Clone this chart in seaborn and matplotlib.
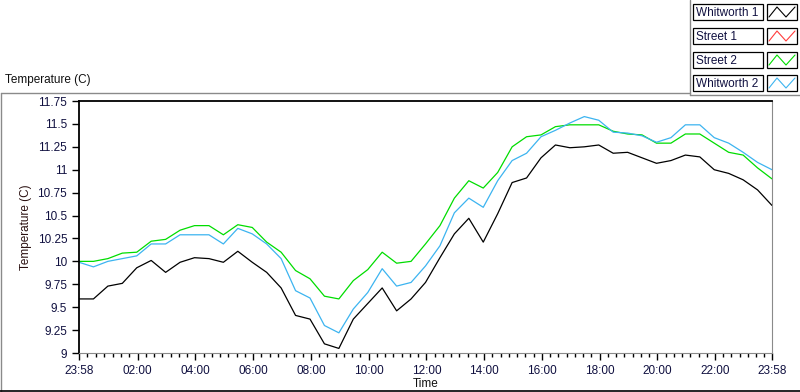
import numpy as np
import pandas as pd
import matplotlib
matplotlib.use("Agg")
import matplotlib.pyplot as plt
import seaborn as sns
from matplotlib.patches import Rectangle
from matplotlib.ticker import FixedLocator

# sampled every half hour starting at 23:58
hours = np.arange(0, 24.01, 0.5)

whitworth1 = [9.59, 9.59, 9.73, 9.76, 9.93, 10.01, 9.88, 9.99, 10.04, 10.03,
              9.99, 10.11, 9.99, 9.88, 9.71, 9.41, 9.37, 9.10, 9.05, 9.37,
              9.54, 9.71, 9.46, 9.59, 9.77, 10.04, 10.30, 10.47, 10.21, 10.52,
              10.86, 10.91, 11.13, 11.27, 11.24, 11.25, 11.27, 11.18, 11.19, 11.13,
              11.07, 11.10, 11.16, 11.14, 11.00, 10.96, 10.89, 10.78, 10.61]
street1 = []
street2 = [10.00, 10.00, 10.03, 10.09, 10.10, 10.22, 10.24, 10.34, 10.39, 10.39,
           10.29, 10.40, 10.37, 10.21, 10.10, 9.90, 9.81, 9.62, 9.59, 9.79,
           9.91, 10.10, 9.98, 10.00, 10.19, 10.39, 10.69, 10.88, 10.80, 10.97,
           11.25, 11.36, 11.38, 11.47, 11.49, 11.49, 11.49, 11.42, 11.39, 11.38,
           11.29, 11.29, 11.39, 11.39, 11.29, 11.19, 11.16, 11.02, 10.90]
whitworth2 = [9.99, 9.94, 10.00, 10.03, 10.06, 10.19, 10.19, 10.29, 10.29, 10.29,
              10.19, 10.36, 10.30, 10.19, 10.03, 9.68, 9.60, 9.30, 9.22, 9.48,
              9.66, 9.92, 9.73, 9.77, 9.95, 10.17, 10.53, 10.69, 10.59, 10.88,
              11.10, 11.18, 11.36, 11.43, 11.51, 11.58, 11.54, 11.41, 11.40, 11.37,
              11.30, 11.35, 11.49, 11.49, 11.35, 11.29, 11.19, 11.08, 11.00]

names = ["Whitworth 1", "Street 1", "Street 2", "Whitworth 2"]
colors = ["#000000", "#ff3c3c", "#00dd00", "#3cb4f0"]
series = [whitworth1, street1, street2, whitworth2]

xtick_pos = [0, 2 + 2 / 60, 4 + 2 / 60, 6 + 2 / 60, 8 + 2 / 60, 10 + 2 / 60, 12 + 2 / 60,
             14 + 2 / 60, 16 + 2 / 60, 18 + 2 / 60, 20 + 2 / 60, 22 + 2 / 60, 24]
xtick_labels = ["23:58", "02:00", "04:00", "06:00", "08:00", "10:00", "12:00",
                "14:00", "16:00", "18:00", "20:00", "22:00", "23:58"]
yticks = [9, 9.25, 9.5, 9.75, 10, 10.25, 10.5, 10.75, 11, 11.25, 11.5, 11.75]

rows = []
for n, s in zip(names, series):
    for h, v in zip(hours[:len(s)], s):
        rows.append({"hour": h, "temp": v, "sensor": n})
df = pd.DataFrame(rows)

sns.set_style("white")
plt.rcParams['font.family'] = ['Liberation Sans', 'DejaVu Sans']
plt.rcParams['font.size'] = 8.5

fig = plt.figure(figsize=(8, 3.92), dpi=100)

# background overlay in pixel coordinates for frame, title and legend
bg = fig.add_axes([0, 0, 1, 1], zorder=-1)
bg.set_xlim(0, 800)
bg.set_ylim(392, 0)
bg.axis("off")
gray = "#8a8a8a"
bg.plot([0.5, 690], [93, 93], color=gray, lw=1)
bg.plot([690, 690], [0, 95], color=gray, lw=1)
bg.plot([690, 800], [95, 95], color=gray, lw=1)
bg.plot([0.5, 0.5], [93, 392], color=gray, lw=1)
bg.plot([0, 800], [391, 391], color="black", lw=1.2)
bg.text(5, 80, "Temperature (C)", va="center", ha="left", fontsize=8.5, color="#101010")

row_top = [4, 28, 52, 75]
for n, c, t in zip(names, colors, row_top):
    bg.add_patch(Rectangle((693, t), 70, 16, facecolor="white", edgecolor="black", lw=0.9))
    bg.text(696, t + 8.5, n, va="center", ha="left", fontsize=8.5, color="#101040")
    bg.add_patch(Rectangle((767, t), 30, 16, facecolor="white", edgecolor="black", lw=0.9))
    bg.plot([769, 777, 786, 795], [t + 13, t + 3, t + 13, t + 3], color=c, lw=0.8)

ax = fig.add_axes([79 / 800, 1 - 353 / 392, 693 / 800, 252 / 392])
sns.lineplot(data=df, x="hour", y="temp", hue="sensor",
             hue_order=[n for n, s in zip(names, series) if len(s)],
             palette=[c for c, s in zip(colors, series) if len(s)],
             linewidth=0.9, ax=ax, legend=False, estimator=None, sort=False)

ax.set_xlim(0, 24)
ax.set_ylim(9, 11.75)
ax.set_yticks(yticks)
ax.set_yticklabels(["%g" % v for v in yticks])
ax.set_xticks(xtick_pos)
ax.set_xticklabels(xtick_labels)
minor = []
for i in range(len(xtick_pos) - 1):
    a, b = xtick_pos[i], xtick_pos[i + 1]
    for k in range(1, 7):
        minor.append(a + (b - a) * k / 7)
ax.xaxis.set_minor_locator(FixedLocator(minor))
ax.tick_params(axis="both", which="major", direction="out", length=5, width=1,
               color="black", labelsize=8.5, labelcolor="#101040", bottom=True, left=True)
ax.tick_params(axis="x", which="minor", direction="out", length=3, width=1,
               color="black", bottom=True)
for side in ["left", "top"]:
    ax.spines[side].set_color("black")
    ax.spines[side].set_linewidth(1.3)
ax.spines["bottom"].set_color(gray)
ax.spines["right"].set_color(gray)
ax.set_xlabel("Time", fontsize=8.5, color="#101010", va="center")
ax.xaxis.set_label_coords(0.5, -0.123)
ax.set_ylabel("Temperature (C)", fontsize=8.5, color="#2a1010")
ax.yaxis.set_label_coords(-0.068, 0.5)

fig.savefig("out.png", dpi=100)
